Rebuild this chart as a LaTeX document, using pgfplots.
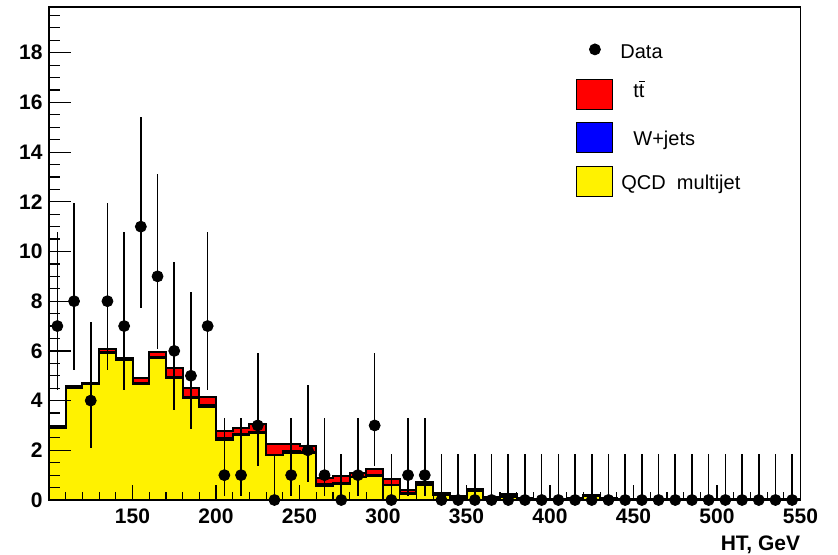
\documentclass[border=0pt]{standalone}
\usepackage{fontspec}
\setmainfont{Liberation Sans}
\usepackage{pgfplots}
\usepackage{pgfplotstable}
\pgfplotsset{compat=1.18}

\pgfplotstableread{
x   q     w     t
100 2.90  0.02  0.06
110 4.52  0.02  0.05
120 4.65  0.02  0.05
130 5.92  0.03  0.12
140 5.62  0.03  0.08
150 4.68  0.03  0.19
160 5.72  0.05  0.20
170 4.90  0.04  0.38
180 4.12  0.04  0.33
190 3.76  0.08  0.32
200 2.42  0.09  0.28
210 2.60  0.05  0.26
220 2.70  0.03  0.32
230 1.80  0.03  0.42
240 1.91  0.08  0.27
250 1.88  0.04  0.27
260 0.56  0.08  0.26
270 0.65  0.03  0.30
280 0.92  0.02  0.13
290 0.97  0.02  0.25
300 0.60  0.02  0.21
310 0.26  0.01  0.13
320 0.62  0.01  0.08
330 0.20  0.01  0.09
340 0.10  0.01  0.06
350 0.35  0.01  0.09
360 0.08  0.01  0.05
370 0.14  0.01  0.08
380 0.03  0.00  0.04
390 0.02  0.00  0.03
400 0.03  0.00  0.03
410 0.05  0.00  0.03
420 0.15  0.00  0.07
430 0.06  0.00  0.04
440 0.03  0.00  0.02
450 0.02  0.00  0.01
460 0.02  0.00  0.01
470 0.02  0.00  0.01
480 0.02  0.00  0.01
490 0.02  0.00  0.01
500 0.02  0.00  0.01
510 0.02  0.00  0.01
520 0.03  0.00  0.01
530 0.02  0.00  0.01
540 0.02  0.00  0.01
550 0.02  0.00  0.01
}\stack

\pgfplotstableread{
x   n   ep    em
105 7   3.77  2.58
115 8   3.95  2.77
125 4   3.16  1.91
135 8   3.95  2.77
145 7   3.77  2.58
155 11  4.41  3.26
165 9   4.11  2.94
175 6   3.58  2.38
185 5   3.38  2.16
195 7   3.77  2.58
205 1   2.30  0.83
215 1   2.30  0.83
225 3   2.92  1.63
235 0   1.84  0
245 1   2.30  0.83
255 2   2.64  1.29
265 1   2.30  0.83
275 0   1.84  0
285 1   2.30  0.83
295 3   2.92  1.63
305 0   1.84  0
315 1   2.30  0.83
325 1   2.30  0.83
335 0   1.84  0
345 0   1.84  0
355 0   1.84  0
365 0   1.84  0
375 0   1.84  0
385 0   1.84  0
395 0   1.84  0
405 0   1.84  0
415 0   1.84  0
425 0   1.84  0
435 0   1.84  0
445 0   1.84  0
455 0   1.84  0
465 0   1.84  0
475 0   1.84  0
485 0   1.84  0
495 0   1.84  0
505 0   1.84  0
515 0   1.84  0
525 0   1.84  0
535 0   1.84  0
545 0   1.84  0
}\data

\begin{document}
\begin{tikzpicture}
\begin{axis}[
  at={(0,0)}, anchor=south west,
  scale only axis,
  width=375.75pt, height=246.5pt,
  xmin=100, xmax=550, ymin=0, ymax=19.84,
  axis on top,
  clip mode=individual,
  axis line style={line width=0.9pt},
  tick align=inside,
  tick pos=left,
  major tick length=11pt, minor tick length=5.5pt,
  xtick={150,200,...,550},
  ytick={0,2,...,18},
  minor ytick={0,0.5,...,19.5},
  xtick style={draw=none},
  ytick style={line width=0.6pt, black},
  /pgf/number format/assume math mode=true,
  ticklabel style={font=\fontsize{10.5pt}{12pt}\selectfont\bfseries},
  yticklabel style={inner sep=0pt, xshift=-3pt},
  xticklabel style={inner sep=0pt, yshift=-4pt},
  xlabel={HT, GeV},
  xlabel style={at={(rel axis cs:1,0)}, anchor=base east, yshift=-25pt, inner sep=0pt,
    font=\fontsize{10.5pt}{12pt}\selectfont\bfseries},
  legend style={at={(rel axis cs:0.7013,0.9432)}, anchor=north west, draw=none, fill=none,
    inner sep=0pt, row sep=0pt, column sep=0pt,
    font=\fontsize{10pt}{12pt}\selectfont,
    nodes={inner sep=0pt, text height=10.1pt, text depth=10.1pt}},
  legend cell align=left,
]
\addlegendimage{legend image code/.code={\path[draw=none,fill=none] (0pt,-3.5pt) rectangle (18pt,11.5pt); \fill[black] (9pt,4.5pt) circle (2.75pt);}}
\addlegendentry{\hspace{3.5pt}Data}
\addlegendimage{legend image code/.code={\draw[line width=0.5pt, draw=black, fill=red] (0pt,-3.5pt) rectangle (18pt,11.5pt);}}
\addlegendentry{\hspace{10pt}\raisebox{2.5pt}{t$\overline{\mbox{t}}$}}
\addlegendimage{legend image code/.code={\draw[line width=0.5pt, draw=black, fill=blue] (0pt,-3.5pt) rectangle (18pt,11.5pt);}}
\addlegendentry{\hspace{10pt}W+jets}
\addlegendimage{legend image code/.code={\draw[line width=0.5pt, draw=black, fill=yellow] (0pt,-3.5pt) rectangle (18pt,11.5pt);}}
\addlegendentry{\hspace{4pt}QCD\ \ multijet}

\addplot[const plot, fill=red, draw=black, line width=1pt, forget plot]
  table[x=x, y expr=\thisrow{q}+\thisrow{w}+\thisrow{t}] {\stack} \closedcycle;
\addplot[const plot, fill=blue, draw=black, line width=1pt, forget plot]
  table[x=x, y expr=\thisrow{q}+\thisrow{w}] {\stack} \closedcycle;
\addplot[const plot, fill=yellow, draw=black, line width=1pt, forget plot]
  table[x=x, y=q] {\stack} \closedcycle;

\addplot[only marks, mark=*, mark size=2.75pt, black, forget plot,
  error bars/.cd, y dir=both, y explicit,
  error bar style={line width=0.8pt, black}, error mark=none]
  table[x=x, y=n, y error plus=ep, y error minus=em] {\data};
\end{axis}
% overlay axis carrying only the shorter x ticks
\begin{axis}[
  at={(0,0)}, anchor=south west,
  scale only axis,
  width=375.75pt, height=246.5pt,
  xmin=100, xmax=550, ymin=0, ymax=19.84,
  axis line style={draw=none},
  tick align=inside,
  tick pos=left,
  major tick length=7.5pt, minor tick length=4pt,
  xtick={150,200,...,550},
  minor xtick={100,110,...,550},
  xticklabels={},
  ytick=\empty,
  xtick style={line width=0.6pt, black},
]
\end{axis}
\pgfresetboundingbox
\path[use as bounding box] (-24.5pt,-27.5pt) rectangle (394.5pt,250pt);
\end{tikzpicture}
\end{document}
